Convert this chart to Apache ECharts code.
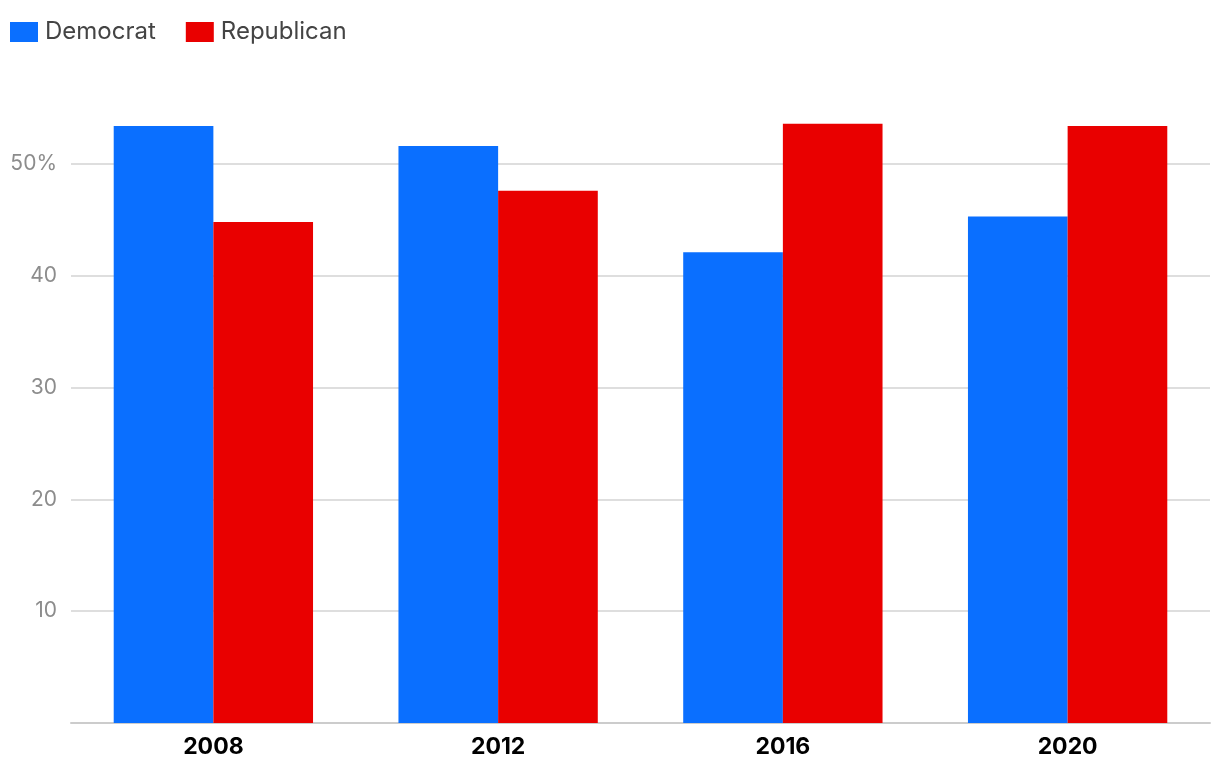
<!DOCTYPE html>
<html>
<head>
<meta charset="utf-8">
<script src="https://cdn.jsdelivr.net/npm/echarts@6/dist/echarts.min.js"></script>
<style>html,body{margin:0;padding:0;background:#fff}#c{width:1220px;height:776px}</style>
</head>
<body>
<div id="c"></div>
<script>
const categories = ['2008', '2012', '2016', '2020'];
const democrat = [53.4, 51.6, 42.1, 45.3];
const republican = [44.8, 47.6, 53.6, 53.4];
const seriesNames = ['Democrat', 'Republican'];

const chart = echarts.init(document.getElementById('c'));
chart.setOption({
  animation: false,
  textStyle: { fontFamily: 'Inter' },
  legend: {
    left: 5, top: 15, itemWidth: 28, itemHeight: 20, itemGap: 30,
    icon: 'rect',
    textStyle: { fontSize: 24, color: '#444', fontFamily: 'Inter', padding: [0, 0, 0, 2] },
    data: seriesNames
  },
  grid: { left: 71, right: 10, top: 108, bottom: 53, containLabel: false },
  xAxis: {
    type: 'category', data: categories,
    axisLine: { lineStyle: { color: '#ccc', width: 2 } },
    axisTick: { show: false },
    axisLabel: { fontSize: 23, fontWeight: 'bold', color: '#000', margin: 13, fontFamily: 'Inter' }
  },
  yAxis: {
    type: 'value', min: 0, max: 55, interval: 10,
    axisLine: { show: false }, axisTick: { show: false },
    splitLine: { lineStyle: { color: '#d3d3d3', width: 1.5 }, showMinLine: false, showMaxLine: false },
    axisLabel: {
      fontSize: 21, color: '#8c8c8c', margin: 14, showMinLabel: false, showMaxLabel: false,
      fontFamily: 'Inter',
      formatter: v => v === 50 ? v + '%' : String(v)
    }
  },
  series: [
    { name: seriesNames[0], type: 'bar', data: democrat, itemStyle: { color: '#0a6fff' }, barGap: '0%', barCategoryGap: '30%' },
    { name: seriesNames[1], type: 'bar', data: republican, itemStyle: { color: '#e90000' }, barGap: '0%', barCategoryGap: '30%' }
  ]
});
</script>
</body>
</html>
